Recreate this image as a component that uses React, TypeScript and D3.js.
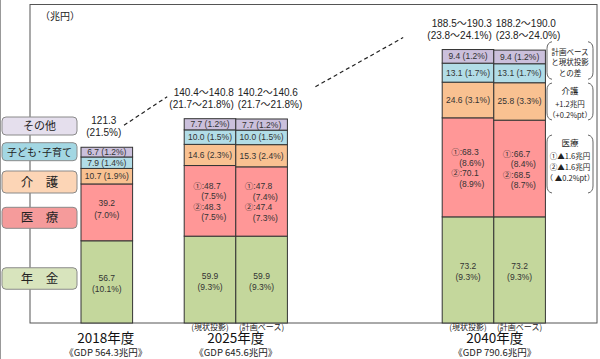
import * as d3 from 'd3';

// bars: 2018, 2025 (現状投影 / 計画ベース), 2040 (現状投影 / 計画ベース)
const barIds = ['2018', '2025a', '2025b', '2040a', '2040b'];
const barSlots = [0, 2, 3, 7, 8];

const pension = [56.7, 59.9, 59.9, 73.2, 73.2];
const pensionPct = ['10.1%', '9.3%', '9.3%', '9.3%', '9.3%'];
const medical1 = [39.2, 48.7, 47.8, 68.3, 66.7];
const medical1Pct = ['7.0%', '7.5%', '7.4%', '8.6%', '8.4%'];
const medical2 = [null, 48.3, 47.4, 70.1, 68.5];
const medical2Pct = [null, '7.5%', '7.3%', '8.9%', '8.7%'];
const care = [10.7, 14.6, 15.3, 24.6, 25.8];
const carePct = ['1.9%', '2.3%', '2.4%', '3.1%', '3.3%'];
const child = [7.9, 10.0, 10.0, 13.1, 13.1];
const childPct = ['1.4%', '1.5%', '1.5%', '1.7%', '1.7%'];
const other = [6.7, 7.7, 7.7, 9.4, 9.4];
const otherPct = ['1.2%', '1.2%', '1.2%', '1.2%', '1.2%'];

const totals = ['121.3', '140.4～140.8', '140.2～140.6', '188.5～190.3', '188.2～190.0'];
const totalPcts = ['(21.5%)', '(21.7～21.8%)', '(21.7～21.8%)', '(23.8～24.1%)', '(23.8～24.0%)'];

const years = ['2018年度', '2025年度', '2040年度'];
const gdps = ['《GDP 564.3兆円》', '《GDP 645.6兆円》', '《GDP 790.6兆円》'];
const subLabels = ['', '(現状投影)', '(計画ベース)', '(現状投影)', '(計画ベース)'];

const legendLabels = ['その他', '子ども･子育て', '介　護', '医　療', '年　金'];

const noteGroups = [
  { head: '', lines: ['計画ベース', 'と現状投影', 'との差'] },
  { head: '介護', lines: ['+1.2兆円', '（+0.2%pt）'] },
  { head: '医療', lines: ['①▲1.6兆円', '②▲1.6兆円', '（ ▲0.2%pt）'] },
];

const keys = ['pension', 'medical', 'care', 'child', 'other'];
const colors: Record<string, string> = {
  pension: '#c4d79c',
  medical: '#ff9797',
  care: '#f9c191',
  child: '#b2dde7',
  other: '#cbc0dc',
};
const legendFills = ['#e5dfed', '#a3d7e3', '#fcd5b6', '#f59b9b', '#d8e4bd'];

const FONT = '"Noto Sans CJK JP", "Noto Sans", sans-serif';
const NUM_FONT = '"Liberation Sans", "Noto Sans CJK JP", sans-serif';

const x = d3.scaleLinear().domain([0, 9]).range([81, 81 + 9 * 51.6]);
const y = d3.scaleLinear().domain([0, 190]).range([323, 323 - 190 * 1.45]);
const bw = x(1) - x(0);

const rows = barIds.map((id, i) => ({
  id,
  pension: pension[i],
  medical: medical1[i],
  care: care[i],
  child: child[i],
  other: other[i],
}));
const series = d3.stack<any>().keys(keys)(rows);

const pctOf: Record<string, string[]> = { care: carePct, child: childPct, other: otherPct };
const valOf: Record<string, number[]> = { care, child, other };

function bracket(xl: number, xr: number, t: number, b: number) {
  const r = 7;
  return (
    `M${xl + 5},${t} Q${xl},${t + 1} ${xl},${t + r} L${xl},${b - r} Q${xl},${b - 1} ${xl + 5},${b} ` +
    `M${xr - 5},${t} Q${xr},${t + 1} ${xr},${t + r} L${xr},${b - r} Q${xr},${b - 1} ${xr - 5},${b}`
  );
}

function SegmentLabel({ k, i, y0, y1 }: { k: string; i: number; y0: number; y1: number }) {
  const x0 = x(barSlots[i]);
  const cx = x0 + bw / 2;
  const cy = (y(y0) + y(y1)) / 2;
  const common = { fontSize: 8.5, fill: '#333', fontFamily: NUM_FONT };
  if (k === 'pension') {
    return (
      <g>
        <text {...common} x={cx} y={cy - 1} textAnchor="middle">{pension[i]}</text>
        <text {...common} x={cx} y={cy + 10.5} textAnchor="middle">({pensionPct[i]})</text>
      </g>
    );
  }
  if (k === 'medical') {
    if (medical2[i] == null) {
      return (
        <g>
          <text {...common} x={cx} y={cy - 6} textAnchor="middle">{medical1[i]}</text>
          <text {...common} x={cx} y={cy + 6} textAnchor="middle">({medical1Pct[i]})</text>
        </g>
      );
    }
    const top = cy - 12;
    return (
      <g>
        <text {...common} x={x0 + 9} y={top}>①:{medical1[i].toFixed(1)}</text>
        <text {...common} x={x0 + 17} y={top + 10.5}>({medical1Pct[i]})</text>
        <text {...common} x={x0 + 9} y={top + 21}>②:{(medical2[i] as number).toFixed(1)}</text>
        <text {...common} x={x0 + 17} y={top + 31.5}>({medical2Pct[i]})</text>
      </g>
    );
  }
  return (
    <text {...common} x={cx} y={cy + 3} textAnchor="middle">
      {valOf[k][i].toFixed(1)} ({pctOf[k][i]})
    </text>
  );
}

export default function App() {
  const legendY = [126, 151.7, 182, 217.8, 278.5];
  const legendH = [18, 18, 22, 21, 21.5];
  const noteRanges = [
    [41.7, 79.3],
    [83, 120],
    [135, 193],
  ];
  const topOf = (i: number) => y(series[series.length - 1][i][1]);

  // year label centers
  const yearX = [x(barSlots[0]) + bw / 2 - 1, x(barSlots[2]), x(barSlots[4]) + 1];

  return (
    <svg
      width={600}
      height={359}
      style={{ position: 'absolute', left: 0, top: 0, background: '#fff' }}
      fontFamily={FONT}
    >
      <rect x={0} y={0} width={600} height={359} fill="#fff" />
      <line x1={0.5} y1={0} x2={0.5} y2={359} stroke="#999" />
      {/* frame */}
      <rect x={30} y={4.5} width={567} height={318.5} fill="none" stroke="#555" strokeWidth={1} />
      <text x={40} y={20} fontSize={10} fill="#222">（兆円）</text>

      {/* bars */}
      {series.map((s) => (
        <g key={s.key}>
          {s.map((d, i) => (
            <rect
              key={i}
              x={x(barSlots[i])}
              y={y(d[1])}
              width={bw}
              height={y(d[0]) - y(d[1])}
              fill={colors[s.key]}
              stroke="#333"
              strokeWidth={1}
            />
          ))}
        </g>
      ))}
      {series.map((s) =>
        s.map((d, i) => <SegmentLabel key={s.key + i} k={s.key} i={i} y0={d[0]} y1={d[1]} />)
      )}

      {/* totals */}
      {barIds.map((id, i) => {
        const x0 = x(barSlots[i]);
        let tx = x0 + bw / 2 - 3;
        let anchor: 'middle' | 'end' | 'start' = 'middle';
        if (i === 1 || i === 3) {
          tx = x0 + bw - 2;
          anchor = 'end';
        } else if (i === 2 || i === 4) {
          tx = x0 + 2;
          anchor = 'start';
        }
        const t = topOf(i);
        return (
          <g key={id} fontSize={10} fill="#222" fontFamily={NUM_FONT}>
            <text x={tx} y={t - 23} textAnchor={anchor}>{totals[i]}</text>
            <text x={tx} y={t - 11} textAnchor={anchor}>{totalPcts[i]}</text>
          </g>
        );
      })}

      {/* dashed trend lines */}
      <line
        x1={x(barSlots[0]) + 43}
        y1={topOf(0) - 22}
        x2={x(barSlots[1]) - 17}
        y2={topOf(1) - 22}
        stroke="#222"
        strokeWidth={1.2}
        strokeDasharray="4,3"
      />
      <line
        x1={x(barSlots[2]) + bw + 28}
        y1={topOf(1) - 32}
        x2={x(barSlots[3]) - 39}
        y2={topOf(3) - 12}
        stroke="#222"
        strokeWidth={1.2}
        strokeDasharray="4,3"
      />

      {/* legend boxes */}
      {legendLabels.map((l, i) => (
        <g key={l}>
          <rect
            x={2}
            y={legendY[i] - legendH[i] / 2}
            width={75}
            height={legendH[i]}
            rx={4}
            fill={legendFills[i]}
            stroke="#8a8a8a"
            strokeWidth={1}
          />
          <text
            x={39.5}
            y={legendY[i] + (i < 2 ? 4 : 4.5)}
            textAnchor="middle"
            fontSize={i === 1 ? 10 : i === 0 ? 11 : 12.5}
            fill="#222"
          >
            {l}
          </text>
        </g>
      ))}

      {/* right notes */}
      {noteGroups.map((g, gi) => {
        const [t, b] = noteRanges[gi];
        return (
          <g key={gi}>
            <path d={bracket(547, 593, t, b)} fill="none" stroke="#555" strokeWidth={0.9} />
            {g.head && (
              <text x={570} y={t + 11} textAnchor="middle" fontSize={8.5} fill="#222">{g.head}</text>
            )}
            {g.lines.map((l, li) => {
              const yy = g.head ? t + 24 + li * 11 : t + 13 + li * 10.5;
              return (
                <text key={li} x={570} y={yy} textAnchor="middle" fontSize={7.5} fill="#222">{l}</text>
              );
            })}
          </g>
        );
      })}

      {/* bottom labels */}
      {subLabels.map((l, i) =>
        l ? (
          <text key={i} x={x(barSlots[i]) + bw / 2} y={329.5} textAnchor="middle" fontSize={8} fill="#222">
            {l}
          </text>
        ) : null
      )}
      {years.map((yr, i) => (
        <g key={yr}>
          <text x={yearX[i]} y={343} textAnchor="middle" fontSize={13.5} fill="#111">{yr}</text>
          <text x={yearX[i]} y={356} textAnchor="middle" fontSize={9.5} fill="#222">{gdps[i]}</text>
        </g>
      ))}
    </svg>
  );
}
